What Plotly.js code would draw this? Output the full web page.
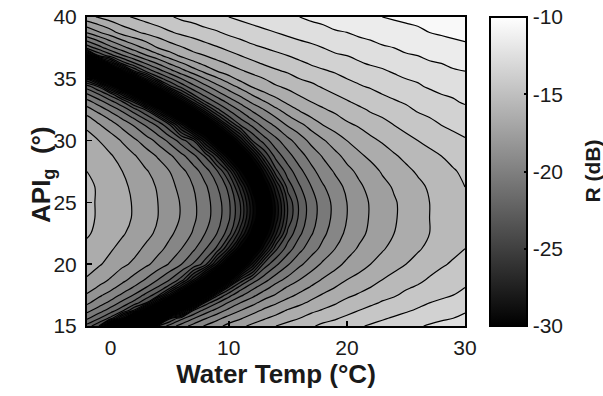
<!DOCTYPE html>
<html><head><meta charset="utf-8">
<script src="https://cdn.plot.ly/plotly-3.0.1.min.js"></script>
<style>html,body{margin:0;padding:0;background:#fff}</style>
</head><body>
<div id="chart" style="width:603px;height:396px"></div>
<script>
// Water temperature (°C), grid columns
const waterTemp = [-2,-1,0,1,2,3,4,5,6,7,8,9,10,11,12,13,14,15,16,17,18,19,20,21,22,23,24,25,26,27,28,29,30];
// API gravity (°), grid rows
const apiGravity = [15,15.625,16.25,16.875,17.5,18.125,18.75,20,21.25,22.5,23.75,25,26.25,27.5,28.75,30,31.25,31.875,32.5,33.125,33.75,34.375,35,35.625,36.25,36.875,37.5,38.75,40];
// Reflection R (dB), one row per API gravity value
const reflectionDb = [
 [-22.4,-23.9,-31.8,-36.0,-36.0,-35.0,-23.0,-21.6,-20.5,-19.6,-18.9,-18.3,-17.7,-17.2,-16.8,-16.4,-16.0,-15.7,-15.4,-15.1,-14.8,-14.6,-14.3,-14.1,-13.9,-13.7,-13.5,-13.3,-13.1,-12.9,-12.8,-12.6,-12.5],
 [-20.8,-21.9,-23.3,-27.7,-34.7,-36.0,-36.0,-24.2,-22.3,-21.1,-20.1,-19.3,-18.6,-18.1,-17.5,-17.1,-16.7,-16.3,-16.0,-15.6,-15.3,-15.1,-14.8,-14.5,-14.3,-14.1,-13.9,-13.7,-13.5,-13.3,-13.1,-13.0,-12.8],
 [-19.7,-20.5,-21.5,-22.7,-25.2,-30.8,-36.0,-36.0,-29.0,-23.0,-21.6,-20.6,-19.7,-19.0,-18.4,-17.8,-17.4,-16.9,-16.6,-16.2,-15.9,-15.6,-15.3,-15.0,-14.7,-14.5,-14.3,-14.1,-13.9,-13.7,-13.5,-13.3,-13.1],
 [-18.8,-19.5,-20.3,-21.3,-22.4,-23.9,-28.9,-34.1,-36.0,-30.8,-23.6,-22.1,-20.9,-20.0,-19.3,-18.6,-18.1,-17.6,-17.2,-16.8,-16.4,-16.1,-15.7,-15.4,-15.2,-14.9,-14.7,-14.4,-14.2,-14.0,-13.8,-13.6,-13.4],
 [-18.1,-18.8,-19.4,-20.2,-21.1,-22.3,-23.6,-27.6,-32.4,-36.0,-31.4,-24.3,-22.4,-21.2,-20.3,-19.5,-18.9,-18.3,-17.8,-17.3,-16.9,-16.6,-16.2,-15.9,-15.6,-15.3,-15.1,-14.8,-14.6,-14.4,-14.2,-14.0,-13.8],
 [-17.6,-18.1,-18.7,-19.4,-20.1,-21.0,-22.1,-23.5,-27.0,-31.6,-36.0,-30.9,-24.7,-22.5,-21.3,-20.4,-19.6,-18.9,-18.4,-17.9,-17.4,-17.0,-16.6,-16.3,-16.0,-15.7,-15.4,-15.1,-14.9,-14.6,-14.4,-14.2,-14.0],
 [-17.1,-17.6,-18.1,-18.7,-19.4,-20.1,-21.0,-22.0,-23.4,-26.8,-31.1,-36.0,-30.4,-24.8,-22.6,-21.4,-20.4,-19.7,-19.0,-18.4,-17.9,-17.5,-17.0,-16.7,-16.3,-16.0,-15.7,-15.4,-15.2,-14.9,-14.7,-14.5,-14.3],
 [-16.6,-16.9,-17.3,-17.8,-18.2,-18.8,-19.4,-20.1,-21.0,-22.1,-23.5,-27.4,-32.1,-32.5,-27.8,-23.6,-22.2,-21.1,-20.2,-19.5,-18.8,-18.3,-17.8,-17.4,-17.0,-16.6,-16.3,-16.0,-15.7,-15.4,-15.1,-14.9,-14.7],
 [-16.2,-16.5,-16.9,-17.3,-17.7,-18.2,-18.7,-19.3,-20.0,-20.8,-21.9,-23.2,-26.2,-30.3,-32.5,-28.3,-24.2,-22.5,-21.3,-20.4,-19.7,-19.0,-18.4,-17.9,-17.5,-17.1,-16.7,-16.4,-16.1,-15.8,-15.5,-15.2,-15.0],
 [-15.9,-16.2,-16.6,-16.9,-17.3,-17.7,-18.2,-18.8,-19.4,-20.1,-21.0,-22.0,-23.5,-26.7,-30.6,-31.1,-27.2,-23.7,-22.2,-21.1,-20.2,-19.5,-18.8,-18.3,-17.8,-17.4,-17.0,-16.6,-16.3,-16.0,-15.7,-15.4,-15.1],
 [-15.8,-16.1,-16.4,-16.7,-17.1,-17.5,-18.0,-18.5,-19.1,-19.8,-20.6,-21.5,-22.8,-25.1,-28.9,-32.4,-28.6,-24.8,-22.7,-21.4,-20.5,-19.7,-19.0,-18.5,-17.9,-17.5,-17.1,-16.7,-16.4,-16.0,-15.7,-15.5,-15.2],
 [-15.8,-16.1,-16.4,-16.7,-17.1,-17.5,-18.0,-18.5,-19.1,-19.8,-20.6,-21.5,-22.8,-25.1,-28.9,-32.4,-28.6,-24.8,-22.7,-21.4,-20.5,-19.7,-19.0,-18.5,-17.9,-17.5,-17.1,-16.7,-16.4,-16.0,-15.7,-15.5,-15.2],
 [-15.8,-16.1,-16.5,-16.8,-17.2,-17.6,-18.1,-18.7,-19.3,-20.0,-20.8,-21.9,-23.3,-26.5,-30.5,-31.2,-27.2,-23.6,-22.1,-21.0,-20.1,-19.4,-18.8,-18.2,-17.7,-17.3,-16.9,-16.5,-16.2,-15.9,-15.6,-15.3,-15.0],
 [-16.0,-16.3,-16.7,-17.0,-17.5,-17.9,-18.4,-19.0,-19.7,-20.5,-21.5,-22.8,-25.3,-29.6,-32.9,-28.6,-24.3,-22.5,-21.3,-20.3,-19.5,-18.9,-18.3,-17.8,-17.4,-16.9,-16.6,-16.2,-15.9,-15.6,-15.3,-15.1,-14.8],
 [-16.2,-16.6,-16.9,-17.4,-17.9,-18.5,-19.1,-19.8,-20.7,-21.7,-23.1,-26.0,-30.2,-33.1,-29.0,-24.9,-22.6,-21.4,-20.4,-19.6,-18.9,-18.3,-17.7,-17.2,-16.8,-16.5,-16.1,-15.8,-15.5,-15.2,-15.0,-14.7,-14.5],
 [-16.6,-17.0,-17.5,-18.1,-18.8,-19.5,-20.3,-21.3,-22.5,-24.0,-28.1,-32.2,-32.1,-28.0,-24.0,-22.5,-21.3,-20.3,-19.5,-18.7,-18.1,-17.5,-17.0,-16.6,-16.2,-15.9,-15.6,-15.3,-15.0,-14.8,-14.5,-14.3,-14.1],
 [-17.2,-17.9,-18.5,-19.3,-20.1,-21.1,-22.2,-23.8,-27.5,-31.6,-33.9,-29.8,-25.7,-23.0,-21.8,-20.6,-19.8,-18.9,-18.3,-17.6,-17.0,-16.6,-16.2,-15.9,-15.6,-15.3,-15.0,-14.7,-14.5,-14.3,-14.0,-13.8,-13.6],
 [-17.8,-18.5,-19.3,-20.2,-21.2,-22.4,-23.9,-27.8,-31.9,-34.3,-30.1,-26.0,-23.2,-21.8,-20.7,-19.8,-19.0,-18.2,-17.5,-17.0,-16.6,-16.2,-15.8,-15.5,-15.2,-15.0,-14.7,-14.4,-14.2,-14.0,-13.8,-13.6,-13.4],
 [-18.6,-19.4,-20.3,-21.3,-22.6,-24.1,-28.3,-32.4,-34.3,-30.2,-26.1,-23.3,-21.9,-20.8,-19.8,-19.0,-18.2,-17.5,-16.9,-16.5,-16.1,-15.8,-15.5,-15.2,-14.9,-14.6,-14.4,-14.2,-13.9,-13.7,-13.5,-13.3,-13.2],
 [-19.6,-20.5,-21.6,-22.9,-25.2,-29.3,-33.4,-34.0,-29.9,-25.8,-23.1,-21.8,-20.7,-19.7,-18.8,-18.1,-17.4,-16.8,-16.4,-16.0,-15.7,-15.4,-15.1,-14.8,-14.6,-14.3,-14.1,-13.9,-13.7,-13.5,-13.3,-13.1,-12.9],
 [-20.9,-22.0,-23.4,-26.4,-30.5,-34.5,-33.4,-29.3,-25.3,-22.9,-21.6,-20.5,-19.5,-18.7,-17.9,-17.2,-16.7,-16.3,-15.9,-15.6,-15.3,-15.0,-14.7,-14.5,-14.3,-14.0,-13.8,-13.6,-13.4,-13.2,-13.0,-12.9,-12.7],
 [-22.5,-24.1,-28.2,-32.2,-36.0,-32.3,-28.3,-24.3,-22.6,-21.3,-20.3,-19.3,-18.5,-17.7,-16.9,-16.5,-16.1,-15.8,-15.5,-15.2,-14.9,-14.6,-14.4,-14.1,-13.9,-13.7,-13.5,-13.3,-13.1,-12.9,-12.8,-12.6,-12.5],
 [-26.0,-30.0,-34.0,-35.1,-31.1,-27.1,-23.6,-22.2,-21.0,-20.0,-19.0,-18.2,-17.4,-16.7,-16.3,-16.0,-15.6,-15.3,-15.0,-14.8,-14.5,-14.3,-14.0,-13.8,-13.6,-13.4,-13.2,-13.0,-12.9,-12.7,-12.5,-12.4,-12.2],
 [-32.5,-36.0,-33.7,-29.4,-25.0,-22.8,-21.5,-20.4,-19.4,-18.5,-17.7,-17.0,-16.5,-16.1,-15.8,-15.4,-15.1,-14.9,-14.6,-14.3,-14.1,-13.9,-13.7,-13.5,-13.3,-13.1,-12.9,-12.7,-12.6,-12.4,-12.3,-12.1,-12.0],
 [-36.0,-32.1,-27.4,-23.6,-22.1,-20.9,-19.9,-18.9,-18.1,-17.3,-16.7,-16.3,-15.9,-15.6,-15.2,-14.9,-14.7,-14.4,-14.2,-13.9,-13.7,-13.5,-13.3,-13.1,-12.9,-12.8,-12.6,-12.4,-12.3,-12.1,-12.0,-11.8,-11.7],
 [-29.4,-23.9,-22.4,-21.1,-20.1,-19.1,-18.3,-17.5,-16.8,-16.3,-16.0,-15.6,-15.3,-15.0,-14.7,-14.5,-14.2,-14.0,-13.7,-13.5,-13.3,-13.1,-13.0,-12.8,-12.6,-12.4,-12.3,-12.1,-12.0,-11.8,-11.7,-11.6,-11.4],
 [-22.7,-21.5,-20.3,-19.4,-18.5,-17.8,-17.0,-16.5,-16.1,-15.7,-15.4,-15.1,-14.8,-14.5,-14.2,-14.0,-13.8,-13.6,-13.4,-13.2,-13.0,-12.8,-12.6,-12.5,-12.3,-12.1,-12.0,-11.8,-11.7,-11.6,-11.4,-11.3,-11.2],
 [-18.9,-18.1,-17.4,-16.6,-16.2,-15.8,-15.5,-15.1,-14.8,-14.6,-14.3,-14.1,-13.8,-13.6,-13.4,-13.2,-13.0,-12.8,-12.6,-12.5,-12.3,-12.1,-12.0,-11.8,-11.7,-11.6,-11.4,-11.3,-11.2,-11.0,-10.9,-10.8,-10.7],
 [-16.3,-15.9,-15.5,-15.2,-14.9,-14.6,-14.3,-14.1,-13.8,-13.6,-13.4,-13.2,-13.0,-12.8,-12.6,-12.4,-12.3,-12.1,-12.0,-11.8,-11.7,-11.5,-11.4,-11.3,-11.1,-11.0,-10.9,-10.8,-10.7,-10.5,-10.4,-10.3,-10.2]
];
const xTicks = [0,10,20,30];
const yTicks = [15,20,25,30,35,40];
const cbTicks = [-30,-25,-20,-15,-10];
const cbTickText = ['-30','-25','-20','-15','-10'];

const gray = [[0,'rgb(0,0,0)'],[1,'rgb(255,255,255)']];
const FONT = 'Liberation Sans, Arial, Helvetica, sans-serif';

const traces = [
  {
    type:'heatmap', x:waterTemp, y:apiGravity, z:reflectionDb,
    zmin:-30, zmax:-10, colorscale:gray, hoverinfo:'skip', showscale:true,
    colorbar:{
      x:1.066, xanchor:'left', y:0.5, yanchor:'middle', len:1, lenmode:'fraction',
      thickness:37, thicknessmode:'pixels', xpad:0, ypad:0,
      outlinecolor:'#000', outlinewidth:2,
      tickmode:'array', tickvals:cbTicks, ticktext:cbTickText,
      ticks:'inside', ticklen:4, tickwidth:2, tickcolor:'#000',
      tickfont:{family:FONT, size:21, color:'#1a1a1a'}
    }
  },
  {
    type:'contour', x:waterTemp, y:apiGravity, z:reflectionDb,
    zmin:-30, zmax:-10, colorscale:gray, showscale:false, hoverinfo:'skip',
    autocontour:false,
    contours:{start:-30, end:-10, size:1, coloring:'fill'},
    line:{color:'#000', width:1.2, smoothing:1}
  }
];

const layout = {
  width:603, height:396,
  margin:{l:87, r:138, t:17, b:70, pad:0},
  paper_bgcolor:'#fff', plot_bgcolor:'#fff',
  font:{family:FONT, color:'#1a1a1a'},
  showlegend:false,
  xaxis:{
    range:[-2,30], tickmode:'array', tickvals:xTicks, ticktext:xTicks.map(String),
    ticks:'inside', ticklen:5, tickwidth:1.5, tickcolor:'#000',
    showline:true, linewidth:2, linecolor:'#000', mirror:true,
    showgrid:false, zeroline:false, automargin:false,
    tickfont:{family:FONT, size:21, color:'#1a1a1a'}, ticklabelstandoff:2,
    title:{text:'<b>Water Temp (°C)</b>', font:{family:FONT, size:26, color:'#1a1a1a'}, standoff:6}
  },
  yaxis:{
    range:[15,40], tickmode:'array', tickvals:yTicks, ticktext:yTicks.map(String),
    ticks:'inside', ticklen:5, tickwidth:1.5, tickcolor:'#000',
    showline:true, linewidth:2, linecolor:'#000', mirror:true,
    showgrid:false, zeroline:false, automargin:false,
    tickfont:{family:FONT, size:21, color:'#1a1a1a'}, ticklabelstandoff:4
  },
  annotations:[
    {
      text:'<b>API<sub>g</sub>\u00a0\u00a0(°)</b>', xref:'paper', yref:'paper', x:-0.118, y:0.49,
      xanchor:'center', yanchor:'middle', textangle:-90, showarrow:false,
      font:{family:FONT, size:26, color:'#1a1a1a'}
    },
    {
      text:'<b>R (dB)</b>', xref:'paper', yref:'paper', x:1.336, y:0.5,
      xanchor:'center', yanchor:'middle', textangle:-90, showarrow:false,
      font:{family:FONT, size:21, color:'#1a1a1a'}
    }
  ]
};

Plotly.newPlot('chart', traces, layout, {staticPlot:true, displayModeBar:false});
</script>
</body></html>
